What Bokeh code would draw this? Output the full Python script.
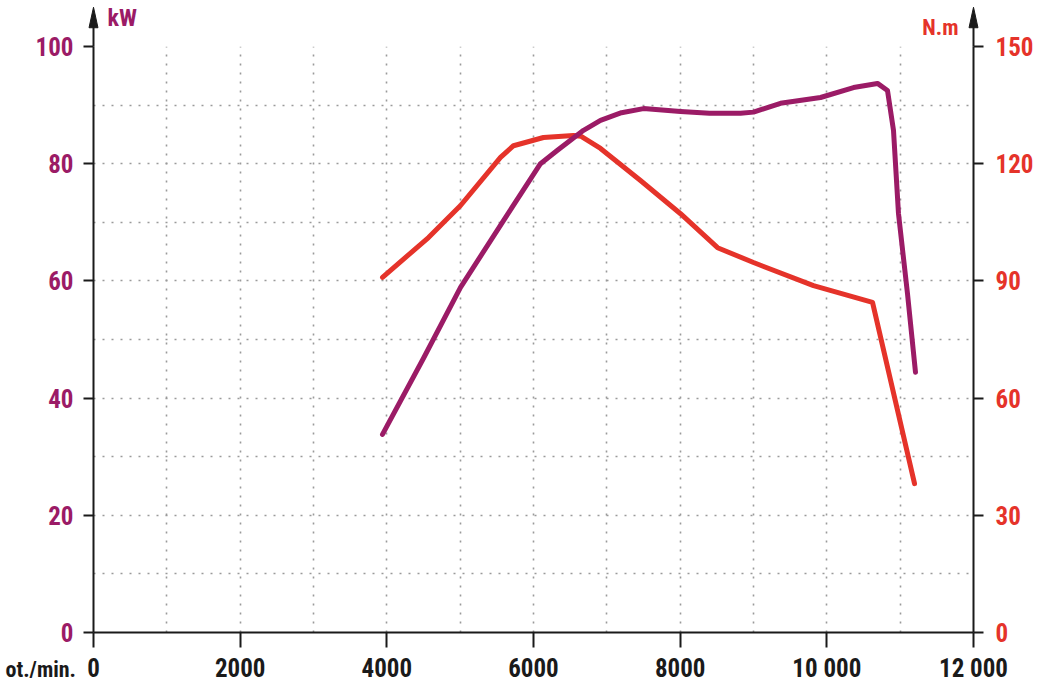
from bokeh.plotting import figure
from bokeh.models import Range1d, LinearAxis, FixedTicker
from bokeh.core.properties import value
from bokeh.embed import file_html
from bokeh.resources import INLINE

# ---- data ----
rpm_power = [3941, 4500, 5005, 5591, 6095, 6327, 6682, 6914, 7200, 7500, 8005, 8400,
             8823, 9000, 9368, 9914, 10364, 10691, 10827, 10909, 10977, 11100, 11209]
power_kw = [33.8, 46.8, 58.9, 70.3, 80.0, 82.3, 85.7, 87.4, 88.7, 89.4, 88.9, 88.6,
            88.6, 88.8, 90.3, 91.3, 93.0, 93.7, 92.5, 85.7, 71.5, 57.8, 44.4]

rpm_torque = [3941, 4568, 5005, 5550, 5727, 6136, 6545, 6650, 6914, 7459, 8005, 8510,
              9000, 9818, 10623, 11196]
torque_nm = [90.9, 101.1, 109.3, 121.6, 124.6, 126.7, 127.2, 127.0, 123.9, 115.7, 107.2, 98.5,
             94.7, 88.8, 84.5, 38.1]

x_ticks = [0, 2000, 4000, 6000, 8000, 10000, 12000]
x_tick_labels = {10000: "10 000", 12000: "12 000"}
kw_ticks = [0, 20, 40, 60, 80, 100]
nm_ticks = [0, 30, 60, 90, 120, 150]
x_grid = [1000, 2000, 3000, 4000, 5000, 6000, 7000, 8000, 9000, 10000, 11000]
y_grid = [10, 20, 30, 40, 50, 60, 70, 80, 90, 100]

PURPLE = "#9B1B66"
RED = "#E5332A"
INK = "#1a1a1a"
FONT = "Roboto Condensed"

X0, X1, Y0, Y1 = 0, 12000, 0, 100

p = figure(width=1050, height=689, x_range=Range1d(X0, X1), y_range=Range1d(Y0, Y1),
           min_border_left=93, min_border_right=77, min_border_top=46, min_border_bottom=57,
           output_backend="svg", toolbar_location=None)
p.outline_line_color = None

# grids
p.xgrid.ticker = FixedTicker(ticks=x_grid)
p.ygrid.ticker = FixedTicker(ticks=y_grid)
for g in (p.xgrid, p.ygrid):
    g.grid_line_color = "#9a9a9a"
    g.grid_line_width = 1.6
    g.grid_line_dash = "2 7"

def style_axis(ax, color, tick_out, standoff):
    ax.major_tick_out = tick_out
    ax.major_tick_in = 0
    ax.minor_tick_line_color = None
    ax.axis_line_width = 2
    ax.axis_line_color = INK
    ax.major_tick_line_width = 2
    ax.major_tick_line_color = INK
    ax.major_label_text_color = color
    ax.major_label_text_font = FONT
    ax.major_label_text_font_style = "bold"
    ax.major_label_text_font_size = "25px"
    ax.major_label_standoff = standoff

ya = p.yaxis[0]
ya.ticker = FixedTicker(ticks=kw_ticks)
style_axis(ya, PURPLE, 10, 10)

xa = p.xaxis[0]
xa.ticker = FixedTicker(ticks=x_ticks)
xa.major_label_overrides = x_tick_labels
style_axis(xa, INK, 15, 6)

p.extra_y_ranges = {"nm": Range1d(0, 150)}
ra = LinearAxis(y_range_name="nm", ticker=FixedTicker(ticks=nm_ticks))
style_axis(ra, RED, 10, 12)
p.add_layout(ra, "right")

# curves
p.line(rpm_torque, torque_nm, y_range_name="nm", line_color=RED, line_width=5,
       line_join="round", line_cap="round")
p.line(rpm_power, power_kw, line_color=PURPLE, line_width=5,
       line_join="round", line_cap="round")

# axis extensions with arrow heads above the frame
for xv in (X0, X1):
    p.segment(x0=[xv], y0=[Y1], x1=[xv], y1=[105], line_color=INK, line_width=2,
              level="overlay")
    p.patch([xv - 61, xv + 61, xv], [103.2, 103.2, 106.7], fill_color=INK, line_color=INK,
            line_width=1, level="overlay")

# unit labels
p.text(x=[191], y=[104.8], text=["kW"], text_color=PURPLE, text_font=value(FONT),
       text_font_style="bold", text_font_size="24px", text_baseline="alphabetic",
       level="overlay")
p.text(x=[11796], y=[103.3], text=["N.m"], text_color=RED, text_font=value(FONT),
       text_font_style="bold", text_font_size="22px", text_baseline="alphabetic",
       text_align="right", level="overlay")
p.text(x=[-1200], y=[-6.3], text=["ot./min."], text_color=INK, text_font=value(FONT),
       text_font_style="bold", text_font_size="22px", text_baseline="alphabetic",
       level="overlay")

open("out.html", "w").write(file_html(p, INLINE))
